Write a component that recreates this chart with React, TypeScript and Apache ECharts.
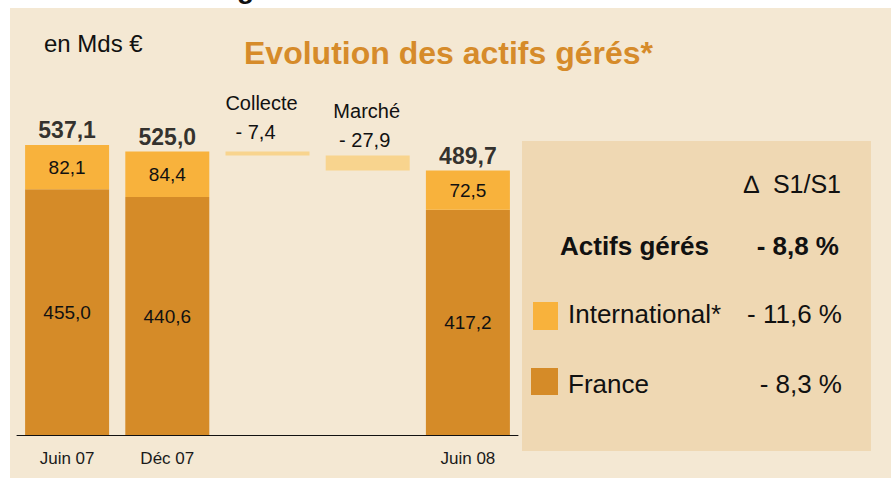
import React, { useEffect, useRef } from "react";
import * as echarts from "echarts";

const categories = ["Juin 07", "Déc 07", "Collecte", "Marché", "Juin 08"];
const franceValues = [455.0, 440.6, null, null, 417.2];
const internationalValues = [82.1, 84.4, null, null, 72.5];
const totalValues = [537.1, 525.0, null, null, 489.7];
const floatBase = [0, 0, 517.6, 489.7, 0];
const floatValues = [null, null, 7.4, 27.9, null];
const variationLabels = ["Actifs gérés", "International*", "France"];
const variationValues = ["- 8,8 %", "- 11,6 %", "- 8,3 %"];

const FONT = "'Liberation Sans', Arial, sans-serif";
const C_FR = "#d58b28";
const C_INT = "#f8b23c";
const C_FLOAT = "#f8d48e";
const fmt = (v: number) => v.toFixed(1).replace(".", ",");

export default function App() {
  const ref = useRef<HTMLDivElement>(null);
  useEffect(() => {
    if (!ref.current) return;
    const chart = echarts.init(ref.current, null, { renderer: "svg" });
    const toData = (arr: (number | null)[]) => arr.map((v) => (v == null ? "-" : v));
    chart.setOption({
      animation: false,
      backgroundColor: "#ffffff",
      textStyle: { fontFamily: FONT },
      grid: { left: 17, right: 373, top: 111, bottom: 43 },
      xAxis: {
        type: "category",
        data: categories,
        axisLine: { lineStyle: { color: "#111", width: 1 } },
        axisTick: { show: false },
        axisLabel: {
          margin: 15,
          fontSize: 17,
          color: "#1a1a1a",
          fontFamily: FONT,
          formatter: (v: string, i: number) => (floatValues[i] != null ? "" : v),
        },
      },
      yAxis: { type: "value", min: 0, max: 600, show: false, splitLine: { show: false } },
      graphic: [
        { type: "rect", z: -10, shape: { x: 10, y: 8, width: 881, height: 470 }, style: { fill: "#f4e8d3" } },
        { type: "text", left: 237, top: -26, style: { text: "g", font: `bold 28px ${FONT}`, fill: "#111" } },
        { type: "text", x: 44, y: 43, style: { text: "en Mds €", font: `24px ${FONT}`, fill: "#111", textVerticalAlign: "middle" } },
        { type: "text", x: 244, y: 53, style: { text: "Evolution des actifs gérés*", font: `bold 32px ${FONT}`, fill: "#d68b2a", textVerticalAlign: "middle" } },
        { type: "rect", z: -5, shape: { x: 522, y: 141, width: 349, height: 310 }, style: { fill: "#efd8b3" } },
        { type: "text", x: 841, y: 184, style: { text: "∆  S1/S1", font: `25px ${FONT}`, fill: "#111", textAlign: "right", textVerticalAlign: "middle" } },
        { type: "text", x: 560, y: 246, style: { text: variationLabels[0], font: `bold 26px ${FONT}`, fill: "#111", textVerticalAlign: "middle" } },
        { type: "text", x: 839, y: 246, style: { text: variationValues[0], font: `bold 26px ${FONT}`, fill: "#111", textAlign: "right", textVerticalAlign: "middle" } },
        { type: "rect", shape: { x: 533, y: 302, width: 25, height: 28 }, style: { fill: C_INT } },
        { type: "text", x: 568, y: 314, style: { text: variationLabels[1], font: `26px ${FONT}`, fill: "#111", textVerticalAlign: "middle" } },
        { type: "text", x: 842, y: 314, style: { text: variationValues[1], font: `26px ${FONT}`, fill: "#111", textAlign: "right", textVerticalAlign: "middle" } },
        { type: "rect", shape: { x: 531, y: 368, width: 27, height: 27 }, style: { fill: C_FR } },
        { type: "text", x: 568, y: 384, style: { text: variationLabels[2], font: `26px ${FONT}`, fill: "#111", textVerticalAlign: "middle" } },
        { type: "text", x: 842, y: 384, style: { text: variationValues[2], font: `26px ${FONT}`, fill: "#111", textAlign: "right", textVerticalAlign: "middle" } },
      ],
      series: [
        {
          type: "bar",
          stack: "total",
          barWidth: 84,
          silent: true,
          itemStyle: { color: "transparent" },
          data: floatBase,
        },
        {
          name: "France",
          type: "bar",
          stack: "total",
          barWidth: 84,
          itemStyle: { color: C_FR },
          label: {
            show: true,
            position: "inside",
            fontSize: 19,
            color: "#111",
            fontFamily: FONT,
            formatter: (p: any) => fmt(p.value),
          },
          data: toData(franceValues),
        },
        {
          name: "International",
          type: "bar",
          stack: "total",
          barWidth: 84,
          itemStyle: { color: C_INT },
          label: {
            show: true,
            position: "inside",
            fontSize: 19,
            color: "#111",
            fontFamily: FONT,
            formatter: (p: any) => fmt(p.value),
          },
          data: toData(internationalValues),
        },
        {
          name: "Variation",
          type: "bar",
          stack: "total",
          barWidth: 84,
          itemStyle: { color: C_FLOAT },
          data: floatValues.map((v, i) =>
            v == null
              ? "-"
              : {
                  value: v,
                  label: {
                    show: true,
                    position: "top",
                    distance: i === 2 ? 5 : 1,
                    offset: i === 2 ? [-6, 0] : [-1, 0],
                    fontFamily: FONT,
                    formatter: `{n|${categories[i]}}\n{v|- ${fmt(v)}}`,
                    rich: {
                      n: { fontSize: 20, lineHeight: 29, color: "#111", fontFamily: FONT },
                      v: {
                        fontSize: 20,
                        lineHeight: 29,
                        color: "#111",
                        fontFamily: FONT,
                        padding: i === 2 ? [0, 12, 0, 0] : [0, 4, 0, 0],
                      },
                    },
                  },
                }
          ),
        },
        {
          type: "scatter",
          symbolSize: 0,
          silent: true,
          label: {
            show: true,
            position: "top",
            distance: 3,
            fontSize: 23,
            fontWeight: "bold",
            color: "#000",
            fontFamily: FONT,
            formatter: (p: any) => fmt(p.value),
          },
          data: toData(totalValues),
        },
      ],
    });
    return () => chart.dispose();
  }, []);
  return <div ref={ref} style={{ width: 891, height: 478, position: "absolute", left: 0, top: 0 }} />;
}
